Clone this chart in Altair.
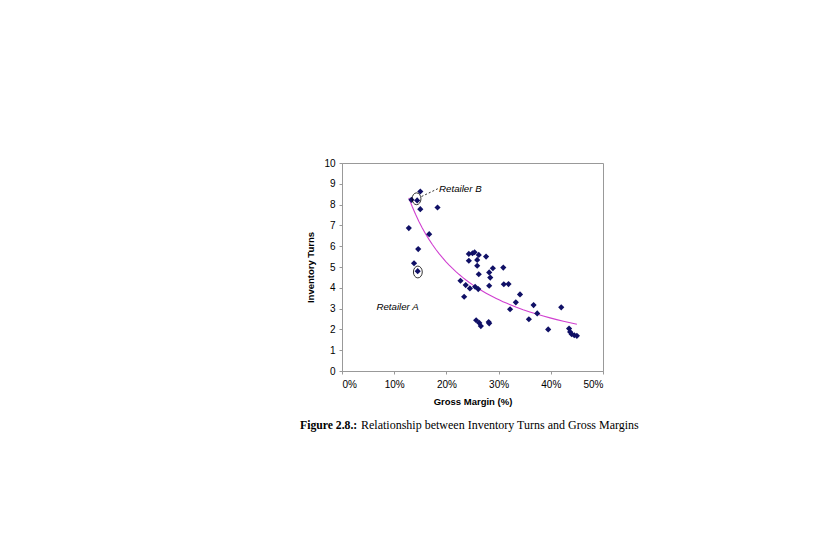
import altair as alt
import pandas as pd

# Gross margin (%) and inventory turns
margin_pct = [13.3, 14.4, 15.0, 15.0, 18.3, 12.8, 16.7, 14.6, 13.8, 14.5,
              24.3, 25.0, 25.4, 26.2, 27.6, 24.3, 25.9, 25.9, 28.9, 30.9,
              28.2, 26.2, 28.4, 22.7, 23.7, 24.5, 25.5, 26.1, 28.2, 31.0,
              31.9, 23.4, 34.1, 33.3, 32.2, 36.7, 37.4, 35.8, 42.0,
              25.7, 26.3, 26.6, 28.2, 28.1,
              39.5, 43.5, 43.7, 44.0, 44.5, 45.0]
turns = [8.23, 8.20, 8.63, 7.78, 7.86, 6.87, 6.58, 5.86, 5.18, 4.80,
         5.63, 5.66, 5.71, 5.58, 5.50, 5.30, 5.34, 5.06, 4.94, 4.97,
         4.74, 4.65, 4.49, 4.34, 4.13, 3.97, 4.05, 3.94, 4.10, 4.17,
         4.18, 3.57, 3.68, 3.30, 2.97, 3.17, 2.77, 2.49, 3.06,
         2.44, 2.31, 2.16, 2.29, 2.35,
         2.00, 2.04, 1.88, 1.77, 1.72, 1.69]

x_ticks = [0, 0.1, 0.2, 0.3, 0.4, 0.5]
y_ticks = [0, 1, 2, 3, 4, 5, 6, 7, 8, 9, 10]

# annotations
label_text = ["Retailer B", "Retailer A"]
label_x = [18.6, 6.6]
label_y = [8.76, 3.10]
ellipse_x = [14.28, 14.53]
ellipse_y = [8.28, 4.76]
leader = {"x": [15.24], "y": [8.39], "x2": [18.5], "y2": [8.78]}

caption_bold = "Figure 2.8.:"
caption_rest = "Relationship between Inventory Turns and Gross Margins"

df = pd.DataFrame({"margin": [m / 100 for m in margin_pct], "turns": turns})
lab = pd.DataFrame({"margin": [v / 100 for v in label_x], "turns": label_y, "t": label_text})
ell = pd.DataFrame({"margin": [v / 100 for v in ellipse_x], "turns": ellipse_y})
lead = pd.DataFrame({"margin": [leader["x"][0] / 100], "turns": leader["y"],
                     "m2": [leader["x2"][0] / 100], "t2": leader["y2"]})

xs = alt.Scale(domain=[0, 0.5], nice=False)
ys = alt.Scale(domain=[0, 10], nice=False)
xaxis = alt.Axis(format=".0%", values=x_ticks, title="Gross Margin (%)",
                 labelOverlap=False, tickCount=6)
yaxis = alt.Axis(values=y_ticks, title="Inventory Turns", labelOverlap=False,
                 tickCount=11)

X = alt.X("margin:Q", scale=xs, axis=xaxis)
Y = alt.Y("turns:Q", scale=ys, axis=yaxis)

base = alt.Chart(df)

trend = base.transform_regression("margin", "turns", method="pow").mark_line(
    color="#d040d0", strokeWidth=1.1).encode(x=X, y=Y)

pts = base.mark_point(shape="diamond", filled=True, size=38, color="#101066",
                      opacity=1).encode(x=X, y=Y)

ellipse_path = "M-0.75,0A0.75,1,0,1,0,0.75,0A0.75,1,0,1,0,-0.75,0Z"
ellipses = alt.Chart(ell).mark_point(shape=ellipse_path, size=140, filled=False,
                                     color="black", strokeWidth=0.8, opacity=1).encode(
    x=X, y=Y)

leader_line = alt.Chart(lead).mark_rule(color="black", strokeWidth=0.8,
                                        strokeDash=[2, 2]).encode(
    x=X, y=Y, x2="m2:Q", y2="t2:Q")

labels = alt.Chart(lab).mark_text(align="left", baseline="middle", fontStyle="italic",
                                  font="Liberation Sans", fontSize=9.7, color="black").encode(
    x=X, y=Y, text="t:N")

cap1 = alt.Chart(pd.DataFrame({"t": [caption_bold]})).mark_text(
    align="left", baseline="alphabetic", font="Liberation Serif", fontSize=11.7,
    fontWeight="bold", color="black").encode(x=alt.value(-42), y=alt.value(266), text="t:N")
cap2 = alt.Chart(pd.DataFrame({"t": [caption_rest]})).mark_text(
    align="left", baseline="alphabetic", font="Liberation Serif", fontSize=12,
    color="black").encode(x=alt.value(19), y=alt.value(266), text="t:N")

chart = alt.layer(trend, pts, ellipses, leader_line, labels, cap1, cap2).properties(
    width=261, height=208,
    autosize="none",
    padding={"left": 334, "top": 155, "right": 217, "bottom": 161},
).configure_view(stroke="#999999", strokeWidth=1).configure_axis(
    grid=False, domainColor="#999999", tickColor="#999999", tickSize=3,
    labelFont="Liberation Sans", labelFontSize=10, labelColor="black",
    titleFont="Liberation Sans", titleFontSize=9.5, titleFontWeight="bold",
    titleColor="black", labelOverlap=False,
).configure_axisX(labelPadding=5, titlePadding=7).configure_axisY(
    labelPadding=4, titlePadding=8)

chart.save("out.html", embed_options={"renderer": "svg", "actions": False})
